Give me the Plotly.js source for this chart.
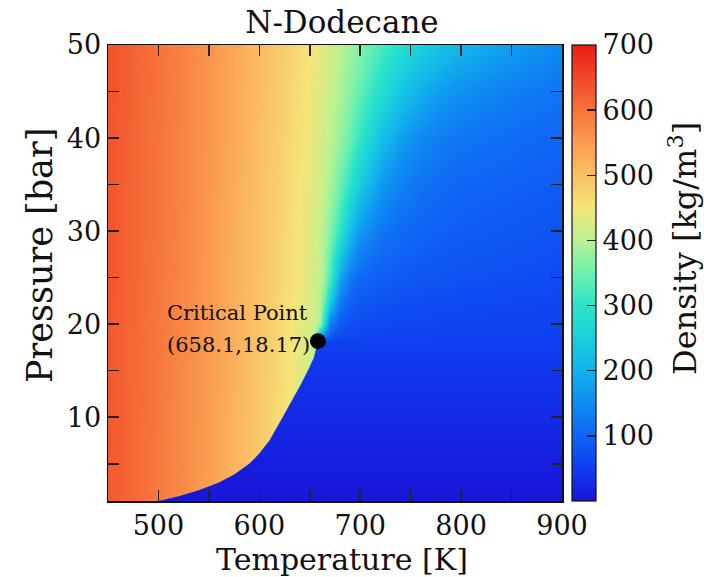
<!DOCTYPE html>
<html><head><meta charset="utf-8">
<script src="https://cdn.plot.ly/plotly-3.0.1.min.js"></script>
<style>html,body{margin:0;padding:0;background:#fff;} #chart{width:704px;height:577px;}</style>
</head><body><div id="chart"></div>
<script>
// ---- data ----
const temperatures = [450, 475, 500, 525, 550, 575, 600, 620, 640, 650, 655, 660, 665, 670, 680, 690, 700, 720, 740, 760, 780, 800, 850, 900];
const pressures = [1, 5, 10, 15, 18.17, 20, 22.5, 25, 30, 35, 40, 45, 50];
const rho_p1    = [632, 612, 591, 569, 545, 517, 488, 460, 428, 412, 404, 395, 3, 3, 3, 3, 3, 3, 3, 3, 2, 2, 2, 2];
const rho_p5    = [632, 612, 592, 570, 546, 518, 489, 461, 429, 413, 405, 396, 13, 13, 12, 12, 12, 11, 11, 11, 10, 10, 10, 9];
const rho_p10   = [633, 613, 593, 571, 547, 519, 490, 462, 430, 415, 407, 398, 27, 27, 26, 25, 25, 24, 23, 22, 22, 21, 20, 19];
const rho_p15   = [633, 614, 594, 572, 548, 521, 492, 464, 433, 417, 409, 400, 44, 43, 42, 41, 40, 38, 36, 35, 34, 33, 31, 29];
const rho_p1817 = [634, 614, 595, 573, 549, 522, 494, 466, 436, 420, 400, 120, 75, 64, 60, 58, 57, 56, 55, 55, 54, 54, 53, 52];
const rho_p20   = [634, 615, 595, 574, 550, 523, 495, 468, 438, 424, 412, 385, 250, 130, 85, 74, 70, 66, 64, 63, 62, 61, 59, 57];
const rho_p225  = [634, 615, 596, 574, 550, 524, 496, 469, 440, 426, 416, 398, 340, 245, 130, 98, 86, 78, 74, 72, 70, 68, 65, 62];
const rho_p25   = [635, 616, 596, 575, 551, 525, 497, 471, 442, 428, 419, 405, 375, 320, 185, 125, 105, 92, 86, 82, 79, 77, 73, 69];
const rho_p30   = [635, 616, 597, 576, 552, 526, 499, 474, 446, 432, 422, 410, 392, 368, 300, 220, 165, 125, 108, 99, 94, 90, 84, 79];
const rho_p35   = [636, 617, 598, 577, 554, 528, 501, 477, 450, 437, 428, 418, 405, 390, 350, 295, 240, 170, 135, 118, 108, 102, 95, 89];
const rho_p40   = [636, 618, 599, 578, 555, 530, 503, 480, 454, 442, 434, 425, 415, 404, 378, 345, 305, 225, 175, 148, 132, 122, 110, 102];
const rho_p45   = [637, 619, 600, 579, 556, 532, 506, 483, 458, 446, 439, 431, 422, 413, 392, 368, 340, 285, 232, 195, 170, 155, 133, 120];
const rho_p50   = [638, 620, 601, 580, 558, 534, 508, 486, 462, 450, 443, 436, 428, 420, 402, 384, 365, 325, 285, 252, 226, 206, 172, 145];

// saturation (liquid-vapour) curve and vapour densities below it
const satT = [500, 520, 540, 560, 575, 590, 600, 610, 620, 630, 640, 648, 654, 658.1];
const satP = [1.0, 1.5, 2.15, 3.0, 3.85, 5.0, 6.1, 7.5, 9.4, 11.3, 13.3, 15.0, 16.4, 18.17];
const vapP   = [1, 5, 10, 15, 18.17];
const vapRho = [3, 13, 27, 42, 55];

const critT = [658.1];
const critP = [18.17];
const critLabel = ['Critical Point', '(658.1,18.17)'];

const xTicks = [500, 600, 700, 800, 900];
const yTicks = [10, 20, 30, 40, 50];
const cbTicks = [100, 200, 300, 400, 500, 600, 700];

// colour map (sampled from the reference colour bar)
const csVals = [0, 50, 100, 150, 200, 250, 300, 350, 400, 450, 500, 550, 600, 650, 700];
const csColors = [
  [25,20,215],[15,60,240],[15,100,245],[15,140,242],[18,178,235],[25,208,220],[45,228,200],
  [110,240,175],[185,242,145],[245,228,120],[250,192,102],[250,155,80],[246,115,58],[240,72,40],[232,30,25]
];
const zMin = 0, zMax = 700;

// ---- build ----
const rgb = c => 'rgb(' + c.map(v => Math.round(v)).join(',') + ')';
const colorscale = csVals.map((v, i) => [(v - zMin) / (zMax - zMin), rgb(csColors[i])]);
function densityColor(v) {
  for (let i = 0; i < csVals.length - 1; i++) {
    if (v <= csVals[i + 1]) {
      const f = Math.max(0, (v - csVals[i]) / (csVals[i + 1] - csVals[i]));
      return rgb(csColors[i].map((c, k) => c + f * (csColors[i + 1][k] - c)));
    }
  }
  return rgb(csColors[csColors.length - 1]);
}

const z = [rho_p1, rho_p5, rho_p10, rho_p15, rho_p1817, rho_p20, rho_p225, rho_p25, rho_p30, rho_p35, rho_p40, rho_p45, rho_p50];
const xRange = [450, 900];
const yRange = [1, 50];

const heat = {
  type: 'heatmap', x: temperatures, y: pressures, z: z,
  zmin: zMin, zmax: zMax, zsmooth: 'best', colorscale: colorscale, hoverinfo: 'skip',
  colorbar: {
    thickness: 24, len: 1, lenmode: 'fraction', y: 0.5, yanchor: 'middle',
    x: 1.022, xanchor: 'left', xpad: 0, ypad: 0,
    outlinecolor: '#111', outlinewidth: 1.2,
    tickvals: cbTicks, ticks: 'inside', ticklen: 9, tickcolor: '#222', tickwidth: 1.5,
    tickfont: {size: 27, color: '#111'}
  }
};

const vapMin = vapP[0], vapMax = vapP[vapP.length - 1];
const vapour = {
  type: 'scatter', mode: 'lines',
  x: satT.concat([xRange[1], xRange[1]]),
  y: satP.concat([critP[0], satP[0]]),
  fill: 'toself', line: {width: 0, color: 'rgba(0,0,0,0)'},
  fillgradient: {
    type: 'vertical', start: vapMin, stop: vapMax,
    colorscale: vapP.map((p, i) => [(p - vapMin) / (vapMax - vapMin), densityColor(vapRho[i])])
  },
  hoverinfo: 'skip', showlegend: false
};

const crit = {
  type: 'scatter', mode: 'markers', x: critT, y: critP,
  marker: {size: 16, color: '#000'}, hoverinfo: 'skip', showlegend: false
};

const axisCommon = {
  showline: true, linecolor: '#111', linewidth: 1.5, mirror: 'ticks',
  ticks: 'inside', ticklen: 11, tickwidth: 1.5, tickcolor: '#222',
  showgrid: false, zeroline: false, tickfont: {size: 27, color: '#111'}
};

const layout = {
  width: 704, height: 577,
  margin: {l: 108, r: 142, t: 45, b: 76},
  paper_bgcolor: '#fff', plot_bgcolor: '#fff',
  font: {family: 'DejaVu Serif', color: '#111'},
  showlegend: false,
  title: {text: 'N-Dodecane', font: {size: 31, color: '#111'}, x: 0.5154, xanchor: 'center', xref: 'paper', y: 1 - 22 / 577, yref: 'container', yanchor: 'middle'},
  xaxis: Object.assign({}, axisCommon, {
    range: xRange, tickvals: xTicks,
    minor: {dtick: 50, tick0: 450, ticks: 'inside', ticklen: 11, tickwidth: 1.5, tickcolor: '#222'}
  }),
  yaxis: Object.assign({}, axisCommon, {
    range: yRange, tickvals: yTicks,
    minor: {dtick: 5, tick0: 0, ticks: 'inside', ticklen: 11, tickwidth: 1.5, tickcolor: '#222'}
  }),
  annotations: [
    {x: 506, y: critP[0], xref: 'x', yref: 'y', xanchor: 'left', yanchor: 'middle', yshift: 28,
     text: critLabel[0], showarrow: false, font: {size: 21, color: '#111'}},
    {x: 506, y: critP[0], xref: 'x', yref: 'y', xanchor: 'left', yanchor: 'middle', yshift: -4,
     text: critLabel[1], showarrow: false, font: {size: 21, color: '#111'}},
    {x: 0.5154, y: -0.1272, xref: 'paper', yref: 'paper', xanchor: 'center', yanchor: 'middle',
     text: 'Temperature [K]', showarrow: false, font: {size: 30, color: '#111'}},
    {x: -0.1498, y: 0.5395, xref: 'paper', yref: 'paper', xanchor: 'center', yanchor: 'middle',
     textangle: -90, text: 'Pressure [bar]', showarrow: false, font: {size: 35, color: '#111'}},
    {x: 1.2665, y: 0.5548, xref: 'paper', yref: 'paper', xanchor: 'center', yanchor: 'middle',
     textangle: -90, text: 'Density [kg/m<sup>3</sup>]', showarrow: false, font: {size: 32, color: '#111'}}
  ]
};

Plotly.newPlot('chart', [heat, vapour, crit], layout, {displayModeBar: false, staticPlot: true});
</script>
</body></html>
